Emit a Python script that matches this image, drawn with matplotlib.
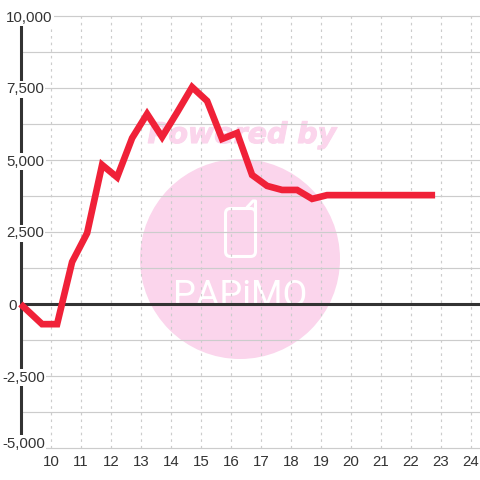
import matplotlib
matplotlib.use('Agg')
import matplotlib.pyplot as plt
import matplotlib.patheffects as pe
from matplotlib.patches import Circle, FancyBboxPatch
from matplotlib.transforms import IdentityTransform

plt.rcParams['font.family'] = ['Liberation Sans', 'DejaVu Sans']

hours = [9.0, 9.72, 10.22, 10.72, 11.22, 11.72, 12.22, 12.72, 13.22, 13.72, 14.22,
         14.72, 15.22, 15.72, 16.22, 16.72, 17.22, 17.72, 18.22, 18.72, 19.22,
         19.72, 20.22, 20.72, 21.22, 21.72, 22.22, 22.82]
values = [0, -700, -700, 1460, 2460, 4830, 4400, 5760, 6600, 5800, 6650,
          7530, 7050, 5730, 5940, 4480, 4100, 3960, 3960, 3650, 3780,
          3780, 3780, 3780, 3780, 3780, 3780, 3780]
x_ticks = list(range(10, 25))
y_major = [10000, 7500, 5000, 2500, 0, -2500, -5000]
y_minor = [8750, 6250, 3750, 1250, -1250, -3750]
y_labels = ['10,000', '7,500', '5,000', '2,500', '0', '-2,500', '-5,000']

DARK = '#333333'
GRID = '#cccccc'
PINK = '#fbd5ec'
RED = '#f02138'

fig = plt.figure(figsize=(4.8, 4.8), dpi=100)
ax = fig.add_axes([20.5 / 480, 32 / 480, 459.5 / 480, 432 / 480])
ax.set_xlim(9, 9 + 459.5 / 30)
ax.set_ylim(-5000, 10000)
for side in ['top', 'right', 'bottom']:
    ax.spines[side].set_visible(False)
ax.spines['left'].set_color(DARK)
ax.spines['left'].set_linewidth(2.2)
ax.spines['left'].set_zorder(3)
ax.tick_params(left=False, bottom=False, labelleft=False, labelbottom=False)

# watermark, under the grid
pix = IdentityTransform()
ax.add_patch(Circle((240, 480 - 259), 100, transform=pix, color=PINK, lw=0, zorder=0.5))
ax.text(242, 480 - 135, 'Powered by', transform=pix, family='DejaVu Sans', weight='bold',
        style='italic', size=20.5, color=PINK, ha='center', va='center', zorder=0.4,
        path_effects=[pe.withStroke(linewidth=0.8, foreground=PINK)])
ax.add_patch(FancyBboxPatch((225.5, 480 - 256.5), 30, 48,
                            boxstyle='round,pad=0,rounding_size=5',
                            transform=pix, fc='none', ec='white', lw=2.2, zorder=0.6))
ax.plot([247, 253, 255.5, 255.5], [480 - 207.5, 480 - 201, 480 - 201, 480 - 214],
        transform=pix, color='white', lw=2.2, solid_capstyle='round', zorder=0.6)
ax.text(240, 480 - 306, 'PAPiMO', transform=pix, family='Roboto', size=26,
        color='white', ha='center', va='baseline', zorder=0.6, clip_on=False)

# grid
for v in y_major + y_minor:
    ax.axhline(v, color=GRID, lw=0.85, zorder=1, clip_on=False)
for t in x_ticks:
    ax.axvline(t, color=GRID, lw=0.85, dashes=(2.2, 3.4), zorder=1)

ax.axhline(0, color=DARK, lw=2.2, zorder=3)
line, = ax.plot(hours, values, color=RED, lw=4.8, solid_joinstyle='miter',
                solid_capstyle='butt', zorder=4, clip_on=False)

# y labels sit over the axis on a white box
for v, lab in zip(y_major, y_labels):
    left = 6
    if lab == '0':
        left = 8
    elif lab.startswith('-'):
        left = 2
    dy = 6 if v == -5000 else 0
    ax.annotate(lab, (9, v), xytext=(left - 20.5, dy), textcoords='offset pixels',
                size=10.8, color=DARK, ha='left', va='center_baseline', zorder=5,
                annotation_clip=False,
                bbox=dict(boxstyle='square,pad=0.1', fc='white', ec='none'))

for t in x_ticks:
    ax.annotate(str(t), (t, -5000), xytext=(0.5, -13), textcoords='offset pixels',
                size=10.8, color=DARK, ha='center', va='center_baseline', annotation_clip=False)

fig.savefig('out.png', dpi=100, facecolor='white')
